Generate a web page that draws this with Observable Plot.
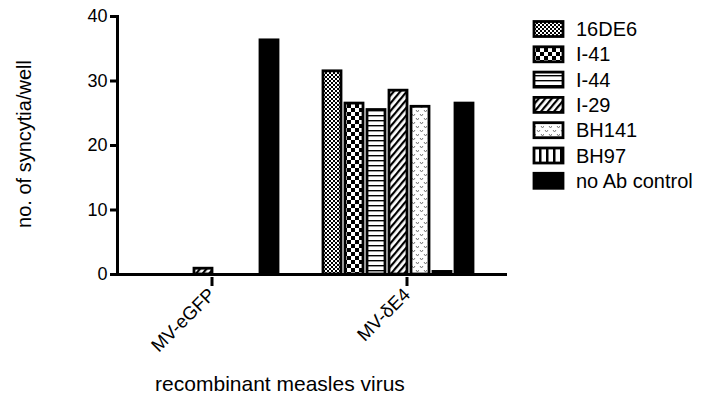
<!DOCTYPE html>
<html>
<head>
<meta charset="utf-8">
<script src="https://cdn.jsdelivr.net/npm/d3@7"></script>
<script src="https://cdn.jsdelivr.net/npm/@observablehq/plot@0.6"></script>
<style>
  html, body { margin: 0; padding: 0; background: white; }
  #wrap { position: relative; width: 701px; height: 400px; overflow: hidden; }
  #overlay { position: absolute; left: 0; top: 0; pointer-events: none; }
</style>
</head>
<body>
<svg width="0" height="0" style="position:absolute">
  <defs>
    <pattern id="p16DE6" patternUnits="userSpaceOnUse" width="4" height="4">
      <rect width="4" height="4" fill="black"/>
      <rect x="0" y="0" width="2" height="2" fill="white"/>
      <rect x="2" y="2" width="2" height="2" fill="white"/>
    </pattern>
    <pattern id="pI41" patternUnits="userSpaceOnUse" width="8" height="8">
      <rect width="8" height="8" fill="white"/>
      <rect x="0" y="0" width="4" height="4" fill="black"/>
      <rect x="4" y="4" width="4" height="4" fill="black"/>
    </pattern>
    <pattern id="pI44" patternUnits="userSpaceOnUse" width="5" height="5">
      <rect width="5" height="5" fill="white"/>
      <rect x="0" y="0" width="5" height="1.4" fill="black"/>
    </pattern>
    <pattern id="pI29" patternUnits="userSpaceOnUse" width="5" height="5" patternTransform="rotate(40)">
      <rect width="5" height="5" fill="white"/>
      <rect x="0" y="0" width="2.2" height="5" fill="black"/>
    </pattern>
    <pattern id="pBH141" patternUnits="userSpaceOnUse" width="8" height="8">
      <rect width="8" height="8" fill="white"/>
      <path d="M1,2 L2.5,4 L4,2" fill="none" stroke="#777" stroke-width="1"/>
      <path d="M5,6 L6.5,8 L8,6" fill="none" stroke="#777" stroke-width="1"/>
    </pattern>
    <pattern id="pBH97" patternUnits="userSpaceOnUse" width="7" height="7">
      <rect width="7" height="7" fill="white"/>
      <rect x="0" y="0" width="2.5" height="7" fill="black"/>
    </pattern>
  </defs>
</svg>
<div id="wrap"></div>
<script>
// ---- data ----
const groups = ["MV-eGFP", "MV-\u03b4E4"];
const series = ["16DE6", "I-41", "I-44", "I-29", "BH141", "BH97", "no Ab control"];
const valuesEGFP = [0, 0, 0, 0.9, 0, 0, 36.3];
const valuesDE4 = [31.5, 26.5, 25.5, 28.5, 26, 0.4, 26.5];
const yTicks = [0, 10, 20, 30, 40];
const yTitle = "no. of syncytia/well";
const xTitle = "recombinant measles virus";

// style table (pattern per series)
const fills = {
  "16DE6": "url(#p16DE6)",
  "I-41": "url(#pI41)",
  "I-44": "url(#pI44)",
  "I-29": "url(#pI29)",
  "BH141": "url(#pBH141)",
  "BH97": "url(#pBH97)",
  "no Ab control": "black"
};

const rows = [];
series.forEach((s, i) => {
  rows.push({group: groups[0], series: s, value: valuesEGFP[i]});
  rows.push({group: groups[1], series: s, value: valuesDE4[i]});
});

const font = "'Liberation Sans', Arial, Helvetica, sans-serif";

const chart = Plot.plot({
  width: 701,
  height: 400,
  marginLeft: 117,
  marginRight: 194,
  marginTop: 16,
  marginBottom: 126,
  style: {fontFamily: font, fontSize: "17px", color: "black", background: "white"},
  fx: {domain: groups, padding: 0, label: null},
  x: {domain: [...series, " "], paddingInner: 0.18, paddingOuter: 0.52, axis: null},
  y: {domain: [0, 40]},
  color: {type: "identity"},
  marks: [
    Plot.barY(rows.filter(d => d.value > 0), {
      fx: "group", x: "series", y: "value",
      fill: d => fills[d.series], stroke: "black", strokeWidth: 2.8
    }),
    Plot.ruleY([0], {stroke: "black", strokeWidth: 3}),
    Plot.frame({anchor: "left", facetAnchor: "left", stroke: "black", strokeWidth: 3}),
    Plot.axisY({ticks: yTicks, tickSize: 7, tickPadding: 3, strokeWidth: 3, label: null, fontSize: 18}),
    Plot.axisFx({anchor: "bottom", tickRotate: -45, tickSize: 9, tickPadding: 5, strokeWidth: 3, label: null, fontSize: 18.5, dx: -3, dy: 3})
  ]
});

const wrap = document.getElementById("wrap");
wrap.appendChild(chart);

// overlay: axis titles and legend
const ov = d3.select(wrap).append("svg")
  .attr("id", "overlay")
  .attr("width", 701).attr("height", 400)
  .style("font-family", font);

ov.append("text")
  .attr("transform", "translate(31,144) rotate(-90)")
  .attr("text-anchor", "middle")
  .attr("font-size", 20)
  .text(yTitle);

ov.append("text")
  .attr("x", 280).attr("y", 391)
  .attr("text-anchor", "middle")
  .attr("font-size", 21)
  .text(xTitle);

const lg = ov.append("g");
series.forEach((s, i) => {
  const cy = 29 + i * 25.3;
  lg.append("rect")
    .attr("x", 534).attr("y", cy - 7.5)
    .attr("width", 29).attr("height", 15)
    .attr("fill", fills[s]).attr("stroke", "black").attr("stroke-width", 2.8);
  lg.append("text")
    .attr("x", 576).attr("y", cy + 7)
    .attr("font-size", 20)
    .text(s);
});
</script>
</body>
</html>
